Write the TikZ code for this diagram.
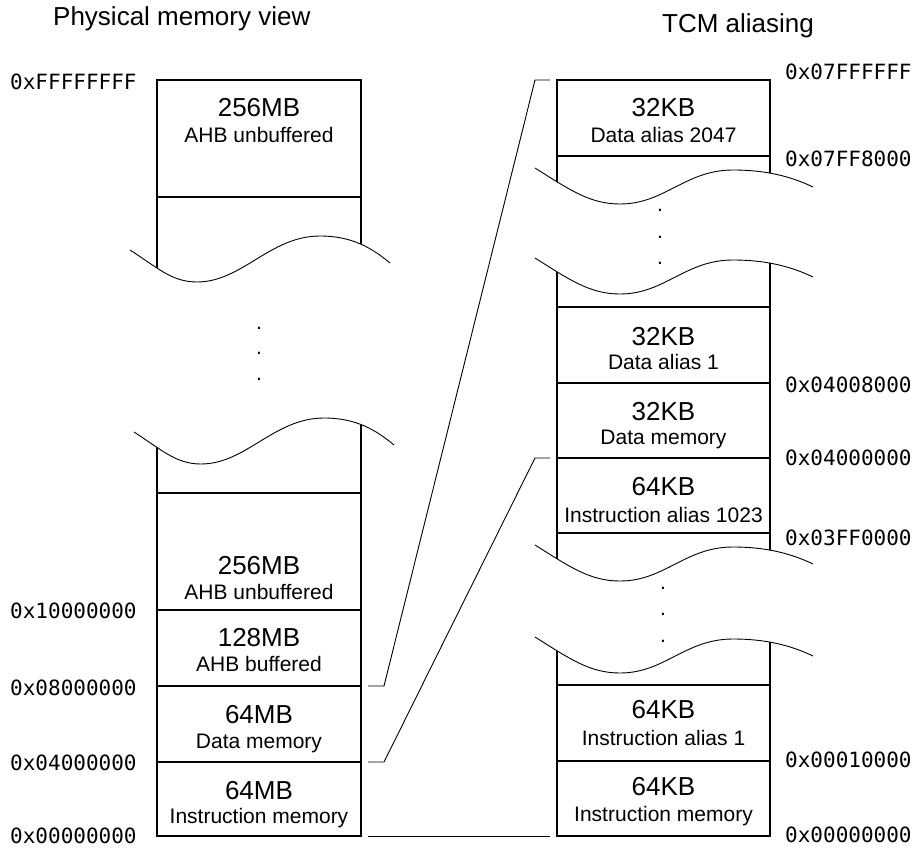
\documentclass[tikz,border=0pt]{standalone}
\usepackage{fontspec}
\setmainfont{Liberation Sans}
\newfontfamily\addrfont{DejaVu Sans Mono}
\begin{document}
\begin{tikzpicture}[x=1pt,y=-1pt,
  wall/.style={line width=1.6pt, line join=miter},
  divider/.style={line width=1.5pt},
  wavy/.style={line width=0.9pt},
  link/.style={line width=0.9pt},
  size/.style={font=\fontsize{26}{30}\selectfont, anchor=base, inner sep=0pt},
  desc/.style={font=\fontsize{21}{25}\selectfont, anchor=base, inner sep=0pt},
  addr/.style={font=\addrfont\fontsize{21}{25}\selectfont, inner sep=0pt, anchor=west},
  title/.style={font=\fontsize{26}{30}\selectfont, anchor=base west, inner sep=0pt},
  gapdot/.style={font=\fontsize{21}{25}\selectfont, anchor=base, inner sep=0pt}]

\useasboundingbox (0,0) rectangle (916,851);

% torn-edge curves, given relative to their left end
\def\lwave{(0,0) .. controls (28,18) and (42,32) .. (67,32)
  .. controls (112,32) and (140,-14) .. (190,-14)
  .. controls (222,-14) and (242,-2) .. (260,13)}
\def\rwave{(0,0) .. controls (35,22) and (55,36) .. (85,36)
  .. controls (130,36) and (150,2) .. (198,2)
  .. controls (230,2) and (255,8) .. (278,19)}

% titles
\node[title] (ttlphys) at (53,26) {Physical memory view};
\node[title] (ttltcm) at (662,33) {TCM aliasing};

% ---------------- physical memory column ----------------
\begin{scope}
  \clip[shift={(130,250)}] \lwave -- (260,-260) -- (0,-260) -- cycle;
  \draw[wall] (157,300) -- (157,80) -- (361,80) -- (361,300);
\end{scope}
\begin{scope}
  \clip[shift={(134,432)}] \lwave -- (260,450) -- (0,450) -- cycle;
  \draw[wall] (157,400) -- (157,836) -- (361,836) -- (361,400);
\end{scope}
\draw[wavy, shift={(130,250)}] \lwave;
\draw[wavy, shift={(134,432)}] \lwave;
\foreach \yy in {197,493,610,686,762}
  \draw[divider] (157,\yy) -- (361,\yy);

\node[size] (p1s) at (259,117) {256MB};
\node[desc] (p1d) at (259,142) {AHB unbuffered};
\node[gapdot] (pdot1) at (259,329) {.};
\node[gapdot] (pdot2) at (259,354) {.};
\node[gapdot] (pdot3) at (259,380) {.};
\node[size] (p2s) at (259,574) {256MB};
\node[desc] (p2d) at (259,599) {AHB unbuffered};
\node[size] (p3s) at (259,646) {128MB};
\node[desc] (p3d) at (259,671) {AHB buffered};
\node[size] (p4s) at (259,723) {64MB};
\node[desc] (p4d) at (259,748) {Data memory};
\node[size] (p5s) at (259,799) {64MB};
\node[desc] (p5d) at (259,823) {Instruction memory};

\node[addr] (pa1) at (10,82) {0xFFFFFFFF};
\node[addr] (pa2) at (10,611) {0x10000000};
\node[addr] (pa3) at (10,688) {0x08000000};
\node[addr] (pa4) at (10,763) {0x04000000};
\node[addr] (pa5) at (10,836) {0x00000000};

% ---------------- TCM column ----------------
\begin{scope}
  \clip[shift={(535,168)}] \rwave -- (278,-200) -- (0,-200) -- cycle;
  \draw[wall] (557,200) -- (557,80) -- (770,80) -- (770,200);
\end{scope}
\begin{scope}
  \clip[shift={(535,258)}] \rwave -- (278,400) -- (0,400) -- cycle;
  \clip[shift={(535,545)}] \rwave -- (278,-400) -- (0,-400) -- cycle;
  \draw[wall] (557,240) -- (557,600);
  \draw[wall] (770,240) -- (770,600);
\end{scope}
\begin{scope}
  \clip[shift={(535,637)}] \rwave -- (278,250) -- (0,250) -- cycle;
  \draw[wall] (557,620) -- (557,836) -- (770,836) -- (770,620);
\end{scope}
\foreach \yy in {168,258,545,637}
  \draw[wavy, shift={(535,\yy)}] \rwave;
\foreach \yy in {156,307,383,458,533,685,761}
  \draw[divider] (557,\yy) -- (770,\yy);

\node[size] (t1s) at (663.5,117) {32KB};
\node[desc] (t1d) at (663.5,142) {Data alias 2047};
\node[gapdot] (tdot1) at (660,211) {.};
\node[gapdot] (tdot2) at (660,238) {.};
\node[gapdot] (tdot3) at (660,264) {.};
\node[size] (t2s) at (663.5,345) {32KB};
\node[desc] (t2d) at (663.5,369) {Data alias 1};
\node[size] (t3s) at (663.5,420) {32KB};
\node[desc] (t3d) at (663.5,444) {Data memory};
\node[size] (t4s) at (663.5,495) {64KB};
\node[desc] (t4d) at (663.5,522) {Instruction alias 1023};
\node[gapdot] (tdot4) at (663,589) {.};
\node[gapdot] (tdot5) at (663,615) {.};
\node[gapdot] (tdot6) at (663,642) {.};
\node[size] (t5s) at (663.5,718) {64KB};
\node[desc] (t5d) at (663.5,745) {Instruction alias 1};
\node[size] (t6s) at (663.5,795) {64KB};
\node[desc] (t6d) at (663.5,821) {Instruction memory};

\node[addr] (ta1) at (785,72) {0x07FFFFFF};
\node[addr] (ta2) at (785,159) {0x07FF8000};
\node[addr] (ta3) at (785,385) {0x04008000};
\node[addr] (ta4) at (785,458) {0x04000000};
\node[addr] (ta5) at (785,538) {0x03FF0000};
\node[addr] (ta6) at (785,760) {0x00010000};
\node[addr] (ta7) at (785,835) {0x00000000};

% ---------------- mapping between the two views ----------------
\coordinate (pm08) at (361,686);
\coordinate (pm04) at (361,762);
\coordinate (pm00) at (361,836);
\coordinate (tc07) at (557,80);
\coordinate (tc04) at (557,458);
\coordinate (tc00) at (557,836);
\draw[link] ([xshift=7pt]pm08) -- ++(16,0) -- ([xshift=-22pt]tc07) -- ([xshift=-7pt]tc07);
\draw[link] ([xshift=7pt]pm04) -- ++(16,0) -- ([xshift=-22pt]tc04) -- ([xshift=-7pt]tc04);
\draw[link] ([xshift=7pt]pm00) -- ([xshift=-7pt]tc00);
\end{tikzpicture}
\end{document}
